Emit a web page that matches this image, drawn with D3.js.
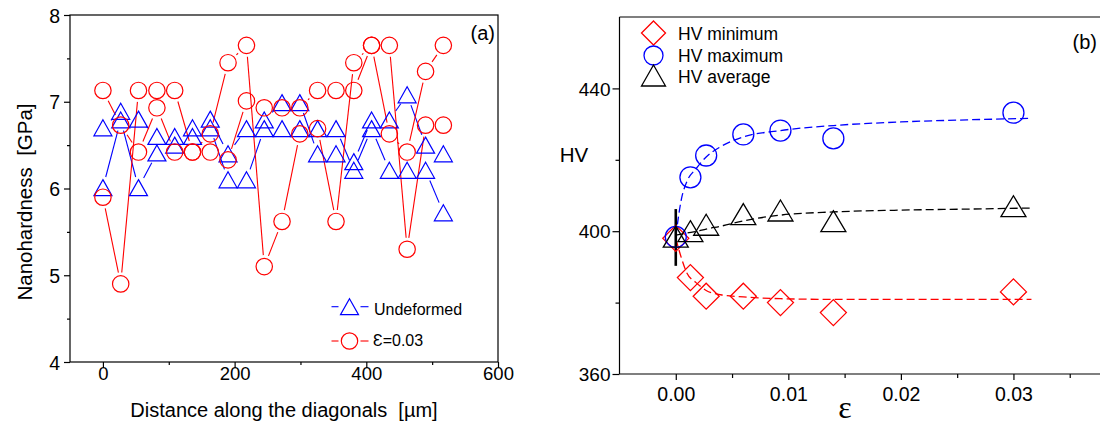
<!DOCTYPE html>
<html>
<head>
<meta charset="utf-8">
<script src="https://cdn.jsdelivr.net/npm/d3@7"></script>
<style>
  body { margin: 0; background: #fff; }
  text { font-family: "Liberation Sans", Arial, sans-serif; fill: #000; }
  .axis path, .axis line { stroke: #000; stroke-width: 1.2; }
</style>
</head>
<body>
<div class="chart"></div>
<script>
// ---- panel (a) data: nanohardness along two diagonals ----
var distance = [0, 27, 54, 82, 109, 136, 163, 190, 218, 245, 272, 299, 326, 354, 381, 408, 435, 462, 490, 517];
var undeformedA = [6.70, 6.89, 6.80, 6.60, 6.60, 6.70, 6.80, 6.40, 6.69, 6.79, 6.99, 6.99, 6.40, 6.40, 6.31, 6.79, 6.79, 7.08, 6.50, 6.40];
var undeformedB = [6.01, 6.79, 6.01, 6.41, 6.50, 6.60, 6.70, 6.10, 6.10, 6.69, 6.69, 6.69, 6.69, 6.69, 6.21, 6.69, 6.21, 6.21, 6.21, 5.72];
var strainedA = [7.13, 6.73, 6.42, 6.93, 6.42, 6.42, 6.63, 7.45, 7.65, 5.10, 5.62, 6.63, 6.69, 5.62, 7.45, 7.65, 6.63, 6.42, 7.35, 7.65];
var strainedB = [5.90, 4.90, 7.13, 7.13, 7.13, 6.42, 6.42, 6.33, 7.01, 6.93, 6.93, 6.93, 7.13, 7.13, 7.13, 7.65, 7.65, 5.30, 6.73, 6.73];
var ticksA_x = [0, 200, 400, 600];
var ticksA_y = [4, 5, 6, 7, 8];

// ---- panel (b) data: HV vs strain ----
var strain = [0, 0.0013, 0.0027, 0.006, 0.0093, 0.014, 0.03];
var hvMin = [398.0, 387.0, 381.8, 381.8, 380.0, 377.2, 383.0];
var hvMax = [398.4, 415.1, 421.2, 427.1, 428.2, 426.0, 433.2];
var hvAvg = [398.5, 400.0, 401.8, 404.8, 405.8, 402.8, 407.0];
var errX = [0];
var errLow = [390.3];
var errHigh = [406.2];
// fitted curves
var fitX = [0, 0.0005, 0.001, 0.0018, 0.0027, 0.004, 0.006, 0.0093, 0.014, 0.02, 0.026, 0.0316];
var fitMax = [398.5, 409.0, 414.0, 417.5, 420.8, 423.7, 426.4, 428.2, 429.6, 430.6, 431.2, 431.6];
var fitMin = [398.0, 392.5, 388.2, 385.6, 383.4, 382.2, 381.6, 381.1, 380.9, 380.9, 380.9, 380.9];
var fitAvg = [398.9, 399.2, 399.5, 399.9, 400.6, 401.4, 402.9, 404.5, 405.4, 405.9, 406.2, 406.5];
var ticksB_x = [0, 0.01, 0.02, 0.03];
var ticksB_y = [360, 400, 440];

var svg = d3.select(".chart").append("svg")
  .attr("width", 1100)
  .attr("height", 428);

// symbol paths
function triPath(w, h) {
  return "M0," + (-h / 2) + "L" + (w / 2) + "," + (h / 2) + "L" + (-w / 2) + "," + (h / 2) + "Z";
}
function diamondPath(r) {
  return "M0," + (-r) + "L" + r + ",0L0," + r + "L" + (-r) + ",0Z";
}

// lines that stop short of the symbols, like the original plot
function gapSegments(pts, gap) {
  var segs = [];
  for (var i = 0; i < pts.length - 1; i++) {
    var x1 = pts[i][0], y1 = pts[i][1], x2 = pts[i + 1][0], y2 = pts[i + 1][1];
    var dx = x2 - x1, dy = y2 - y1, len = Math.sqrt(dx * dx + dy * dy);
    if (len <= 2 * gap + 1) continue;
    var ux = dx / len, uy = dy / len;
    segs.push([x1 + ux * gap, y1 + uy * gap, x2 - ux * gap, y2 - uy * gap]);
  }
  return segs;
}

//================ Panel (a) ================
var xA = d3.scaleLinear().domain([-50, 600]).range([70, 498]);
var yA = d3.scaleLinear().domain([4, 8]).range([362, 15]);

var gA = svg.append("g");

gA.append("rect")
  .attr("x", 70).attr("y", 15)
  .attr("width", 428).attr("height", 347)
  .attr("fill", "none").attr("stroke", "#000").attr("stroke-width", 1.2);

// minor ticks
gA.append("g").attr("class", "axis").attr("transform", "translate(0,362)")
  .call(d3.axisBottom(xA).tickValues([100, 300, 500]).tickSize(3).tickFormat(""))
  .select(".domain").remove();
gA.append("g").attr("class", "axis").attr("transform", "translate(70,0)")
  .call(d3.axisLeft(yA).tickValues([4.5, 5.5, 6.5, 7.5]).tickSize(3).tickFormat(""))
  .select(".domain").remove();

var xAxisA = gA.append("g").attr("class", "axis").attr("transform", "translate(0,362)")
  .call(d3.axisBottom(xA).tickValues(ticksA_x).tickSize(6).tickFormat(d3.format("d")));
xAxisA.select(".domain").remove();
xAxisA.selectAll("text").attr("y", 18).attr("dy", 0).style("font-size", "18.5px");

var yAxisA = gA.append("g").attr("class", "axis").attr("transform", "translate(70,0)")
  .call(d3.axisLeft(yA).tickValues(ticksA_y).tickSize(6).tickFormat(d3.format("d")));
yAxisA.select(".domain").remove();
yAxisA.selectAll("text").attr("x", -10).attr("dy", "0.36em").style("font-size", "19.5px");

// connecting lines
function drawGapLine(g, xs, ys, xScale, yScale, color, gap) {
  var pts = xs.map(function(d, i) { return [xScale(d), yScale(ys[i])]; });
  g.selectAll(null)
    .data(gapSegments(pts, gap))
    .enter().append("line")
    .attr("x1", function(s) { return s[0]; })
    .attr("y1", function(s) { return s[1]; })
    .attr("x2", function(s) { return s[2]; })
    .attr("y2", function(s) { return s[3]; })
    .attr("stroke", color).attr("stroke-width", 1.1);
}

[undeformedA, undeformedB].forEach(function(series) {
  drawGapLine(gA, distance, series, xA, yA, "#0000ff", 11);
});
[strainedA, strainedB].forEach(function(series) {
  drawGapLine(gA, distance, series, xA, yA, "#ff0000", 11.5);
});

[undeformedA, undeformedB].forEach(function(series) {
  gA.selectAll(null)
    .data(series)
    .enter().append("path")
    .attr("d", triPath(18, 16))
    .attr("transform", function(d, i) { return "translate(" + xA(distance[i]) + "," + yA(d) + ")"; })
    .attr("fill", "none").attr("stroke", "#0000ff").attr("stroke-width", 1.2);
});
[strainedA, strainedB].forEach(function(series) {
  gA.selectAll(null)
    .data(series)
    .enter().append("circle")
    .attr("cx", function(d, i) { return xA(distance[i]); })
    .attr("cy", function(d) { return yA(d); })
    .attr("r", 8.2)
    .attr("fill", "none").attr("stroke", "#ff0000").attr("stroke-width", 1.2);
});

// legend (a)
var legA = gA.append("g");
[[306.7, "#0000ff"], [341, "#ff0000"]].forEach(function(row) {
  legA.append("line").attr("x1", 331.5).attr("x2", 338.5).attr("y1", row[0]).attr("y2", row[0])
    .attr("stroke", row[1]).attr("stroke-width", 1.1);
  legA.append("line").attr("x1", 360.5).attr("x2", 368.5).attr("y1", row[0]).attr("y2", row[0])
    .attr("stroke", row[1]).attr("stroke-width", 1.1);
});
legA.append("path").attr("d", triPath(18, 16)).attr("transform", "translate(349.5,306.7)")
  .attr("fill", "none").attr("stroke", "#0000ff").attr("stroke-width", 1.2);
legA.append("circle").attr("cx", 349.5).attr("cy", 341).attr("r", 8.2)
  .attr("fill", "none").attr("stroke", "#ff0000").attr("stroke-width", 1.2);
legA.append("text").attr("x", 374).attr("y", 315).style("font-size", "16px").text("Undeformed");
legA.append("text").attr("x", 373).attr("y", 346).style("font-size", "16px").text("Ɛ=0.03");

// labels (a)
gA.append("text").attr("x", 495).attr("y", 40).attr("text-anchor", "end")
  .style("font-size", "20px").text("(a)");
gA.append("text").attr("x", 284).attr("y", 417).attr("text-anchor", "middle")
  .style("font-size", "20px").text("Distance along the diagonals\u00a0 [\u00b5m]");
gA.append("text").attr("transform", "translate(32,202) rotate(-90)").attr("text-anchor", "middle")
  .style("font-size", "20.5px").text("Nanohardness\u00a0 [GPa]");

//================ Panel (b) ================
var xB = d3.scaleLinear().domain([-0.005, 0.04]).range([619.5, 1126]);
var yB = d3.scaleLinear().domain([360, 460]).range([374, 17]);

var gB = svg.append("g");

gB.append("line").attr("x1", 619.5).attr("x2", 1100).attr("y1", 17).attr("y2", 17)
  .attr("stroke", "#000").attr("stroke-width", 1.2);

gB.append("g").attr("class", "axis").attr("transform", "translate(0,374)")
  .call(d3.axisBottom(xB).tickValues([0.005, 0.015, 0.025, 0.035]).tickSize(4).tickFormat(""))
  .select(".domain").remove();
gB.append("g").attr("class", "axis").attr("transform", "translate(619.5,0)")
  .call(d3.axisLeft(yB).tickValues([380, 420]).tickSize(4).tickFormat(""))
  .select(".domain").remove();

var xAxisB = gB.append("g").attr("class", "axis").attr("transform", "translate(0,374)")
  .call(d3.axisBottom(xB).tickValues(ticksB_x).tickSize(6).tickFormat(d3.format(".2f")));
xAxisB.select(".domain").attr("d", "M619.5,0H1100");
xAxisB.selectAll("text").attr("y", 26.5).attr("dy", 0).style("font-size", "19.5px");

var yAxisB = gB.append("g").attr("class", "axis").attr("transform", "translate(619.5,0)")
  .call(d3.axisLeft(yB).tickValues(ticksB_y).tickSize(7).tickFormat(d3.format("d")));
yAxisB.select(".domain").attr("d", "M0,17V374");
yAxisB.selectAll("text").attr("x", -9).attr("dy", "0.35em").style("font-size", "19px");

// fitted dashed curves
var fitLine = function(ys) {
  return d3.line()
    .x(function(d, i) { return xB(fitX[i]); })
    .y(function(d) { return yB(d); })
    .curve(d3.curveMonotoneX)(ys);
};
[[fitMax, "#0000ff"], [fitAvg, "#000"], [fitMin, "#ff0000"]].forEach(function(f) {
  gB.append("path").attr("d", fitLine(f[0]))
    .attr("fill", "none").attr("stroke", f[1]).attr("stroke-width", 1.3)
    .attr("stroke-dasharray", "8,4");
});

// error bar
gB.selectAll(null).data(errX).enter().append("line")
  .attr("x1", function(d) { return xB(d); }).attr("x2", function(d) { return xB(d); })
  .attr("y1", function(d, i) { return yB(errLow[i]); })
  .attr("y2", function(d, i) { return yB(errHigh[i]); })
  .attr("stroke", "#000").attr("stroke-width", 2.6);

gB.selectAll(null).data(hvMin).enter().append("path")
  .attr("d", diamondPath(13))
  .attr("transform", function(d, i) { return "translate(" + xB(strain[i]) + "," + yB(d) + ")"; })
  .attr("fill", "none").attr("stroke", "#ff0000").attr("stroke-width", 1.3);
gB.selectAll(null).data(hvMax).enter().append("circle")
  .attr("cx", function(d, i) { return xB(strain[i]); })
  .attr("cy", function(d) { return yB(d); })
  .attr("r", 10.5)
  .attr("fill", "none").attr("stroke", "#0000ff").attr("stroke-width", 1.3);
gB.selectAll(null).data(hvAvg).enter().append("path")
  .attr("d", triPath(25, 21))
  .attr("transform", function(d, i) { return "translate(" + xB(strain[i]) + "," + yB(d) + ")"; })
  .attr("fill", "none").attr("stroke", "#000").attr("stroke-width", 1.3);

// legend (b)
var legB = gB.append("g");
legB.append("path").attr("d", diamondPath(12)).attr("transform", "translate(653.5,33)")
  .attr("fill", "none").attr("stroke", "#ff0000").attr("stroke-width", 1.3);
legB.append("circle").attr("cx", 653.5).attr("cy", 55.5).attr("r", 9.5)
  .attr("fill", "none").attr("stroke", "#0000ff").attr("stroke-width", 1.3);
legB.append("path").attr("d", triPath(24, 21)).attr("transform", "translate(653.5,75.5)")
  .attr("fill", "none").attr("stroke", "#000").attr("stroke-width", 1.3);
legB.selectAll(null).data(["HV minimum", "HV maximum", "HV average"]).enter().append("text")
  .attr("x", 678).attr("y", function(d, i) { return 40 + i * 21.7; })
  .style("font-size", "17.5px").text(function(d) { return d; });

// labels (b)
gB.append("text").attr("x", 1097).attr("y", 49).attr("text-anchor", "end")
  .style("font-size", "20px").text("(b)");
gB.append("text").attr("x", 574).attr("y", 162).attr("text-anchor", "middle")
  .style("font-size", "20.5px").text("HV");
gB.append("text").attr("x", 845).attr("y", 418).attr("text-anchor", "middle")
  .style("font-family", "'Liberation Serif', 'Times New Roman', serif")
  .style("font-size", "32px").text("ε");
</script>
</body>
</html>
